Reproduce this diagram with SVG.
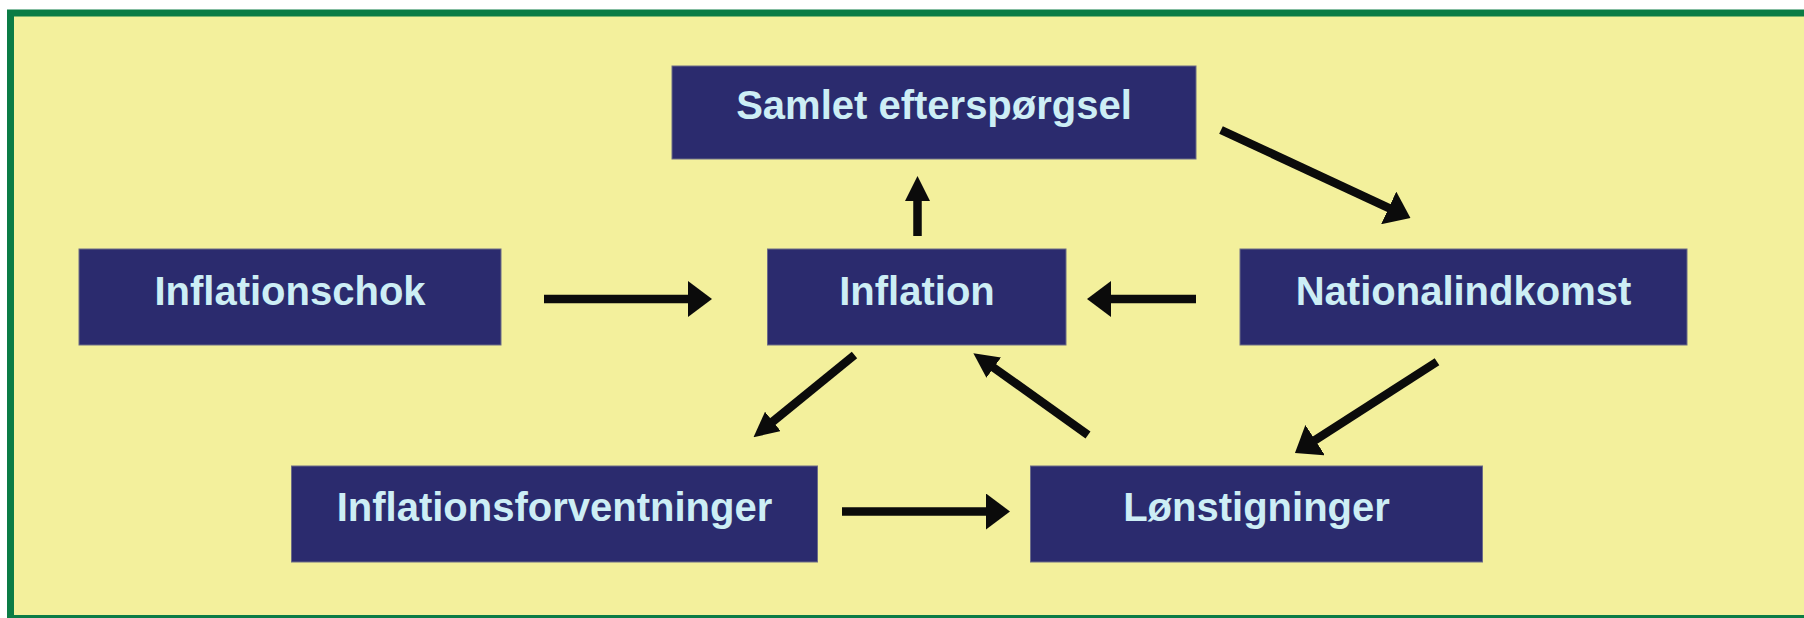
<svg xmlns="http://www.w3.org/2000/svg" width="1804" height="618" viewBox="0 0 1804 618">
<style>
.node rect{fill:#2b2b6e;stroke:#6c6c86;stroke-width:1}
.node text{font-family:"Liberation Sans",Arial,sans-serif;font-weight:bold;font-size:40px;fill:#cdeef5;text-anchor:middle}
.conn line{stroke:#0b0b0b;stroke-width:8.5;stroke-linecap:butt}
</style>
<defs>
<marker id="wide" markerUnits="userSpaceOnUse" viewBox="0 0 24 36" markerWidth="24" markerHeight="36" refX="1" refY="18" orient="auto">
<path d="M0,0 L24,18 L0,36 Z" fill="#0b0b0b"/>
</marker>
<marker id="narrow" markerUnits="userSpaceOnUse" viewBox="0 0 25 25" markerWidth="25" markerHeight="25" refX="1" refY="12.5" orient="auto">
<path d="M0,0 L25,12.5 L0,25 Z" fill="#0b0b0b"/>
</marker>
</defs>
<rect x="0" y="0" width="1804" height="618" fill="#ffffff"/>
<rect id="frame" x="10.5" y="13" width="1850" height="605.5" fill="#f3f09c" stroke="#0b7c45" stroke-width="7"/>
<g id="n-samlet" class="node"><rect x="672" y="66" width="524" height="93"/><text x="934" y="119">Samlet efterspørgsel</text></g>
<g id="n-chok" class="node"><rect x="79" y="249" width="422" height="96"/><text x="290" y="305">Inflationschok</text></g>
<g id="n-inflation" class="node"><rect x="767.5" y="249" width="298.5" height="96"/><text x="917" y="305">Inflation</text></g>
<g id="n-national" class="node"><rect x="1240" y="249" width="447" height="96"/><text x="1463.5" y="305">Nationalindkomst</text></g>
<g id="n-forv" class="node"><rect x="291.5" y="466" width="526" height="96"/><text x="554.5" y="521">Inflationsforventninger</text></g>
<g id="n-loen" class="node"><rect x="1030.5" y="466" width="452" height="96"/><text x="1256.5" y="521">Lønstigninger</text></g>
<g id="connectors" class="conn">
<line x1="544" y1="299" x2="689" y2="299" marker-end="url(#wide)"/>
<line x1="917.5" y1="236" x2="917.5" y2="200" marker-end="url(#narrow)"/>
<line x1="1196" y1="299" x2="1110" y2="299" marker-end="url(#wide)"/>
<line x1="1221" y1="130" x2="1389.6" y2="208.3" marker-end="url(#wide)"/>
<line x1="854.5" y1="355" x2="772.1" y2="422.1" marker-end="url(#narrow)"/>
<line x1="1088" y1="435" x2="992.9" y2="367.1" marker-end="url(#narrow)"/>
<line x1="1437" y1="361.7" x2="1314.3" y2="440.6" marker-end="url(#wide)"/>
<line x1="842" y1="511.5" x2="987" y2="511.5" marker-end="url(#wide)"/>
</g>
</svg>
